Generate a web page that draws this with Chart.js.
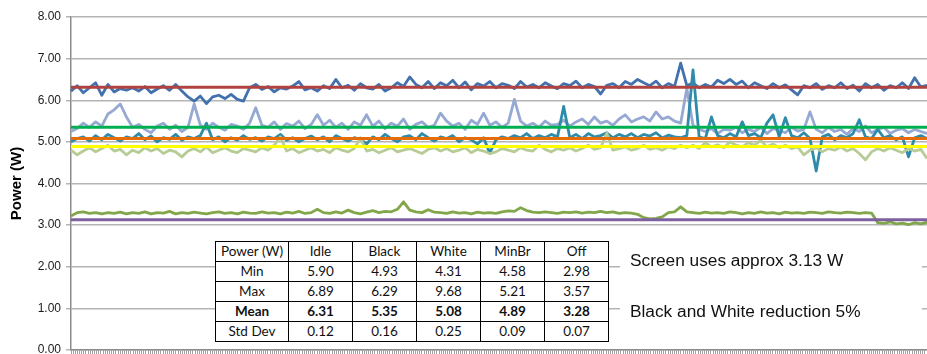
<!DOCTYPE html>
<html>
<head>
<meta charset="utf-8">
<script src="https://cdn.jsdelivr.net/npm/chart.js@4"></script>
<style>
  html, body { margin: 0; padding: 0; background: #fff; }
  #wrap { position: relative; width: 927px; height: 354px; overflow: hidden; }
  #wrap canvas { position: absolute; left: 0; top: 0; }
  .stats {
    position: absolute; left: 215px; top: 241px;
    border-collapse: collapse; background: #fff;
    font-family: Lato, "Open Sans", sans-serif; font-size: 13.5px; color: #111;
  }
  .stats td { border: 1px solid #000; height: 19px; padding: 0; text-align: center; line-height: 19px; }
  .stats tr.bold td { font-weight: bold; }
  .note {
    position: absolute; left: 620px; top: 240px; width: 302px; height: 95px; background: #fff;
  }
  .note div {
    position: absolute; left: 10px; font-family: "Liberation Sans", Arial, sans-serif;
    font-size: 17.3px; line-height: 20px; color: #111; white-space: nowrap;
  }
</style>
</head>
<body>
<div id="wrap">
  <canvas id="myChart" width="927" height="354"></canvas>
  <table class="stats" id="stats"></table>
  <div class="note">
    <div id="note1" style="top:10px"></div>
    <div id="note2" style="top:61px"></div>
  </div>
</div>
<script>
// --------------------------------------------------------------------------------------------------------
// data (power in W, one sample per step)

let idle = [
  6.22, 6.35, 6.18, 6.3, 6.42, 6.12, 6.38, 6.2, 6.28, 6.24,
  6.3, 6.22, 6.33, 6.18, 6.27, 6.35, 6.24, 6.38, 6.22, 6.08,
  5.98, 6.1, 5.92, 6.08, 6.12, 6.04, 6.14, 6.02, 5.98, 6.3,
  6.38, 6.26, 6.33, 6.2, 6.3, 6.27, 6.34, 6.45, 6.25, 6.3,
  6.22, 6.35, 6.28, 6.5, 6.3, 6.36, 6.24, 6.4, 6.3, 6.27,
  6.38, 6.22, 6.3, 6.42, 6.33, 6.56, 6.38, 6.3, 6.45, 6.28,
  6.42, 6.35, 6.48, 6.3, 6.44, 6.25, 6.4, 6.34, 6.45, 6.3,
  6.4, 6.36, 6.28, 6.45, 6.32, 6.38, 6.3, 6.42, 6.34, 6.28,
  6.4, 6.35, 6.46, 6.3, 6.38, 6.33, 6.15, 6.36, 6.4, 6.3,
  6.45, 6.38, 6.5, 6.42, 6.35, 6.46, 6.3, 6.4, 6.33, 6.89,
  6.35, 6.42, 6.3, 6.38, 6.32, 6.48, 6.4, 6.5, 6.38, 6.46,
  6.3, 6.42, 6.35, 6.28, 6.4, 6.3, 6.37, 6.25, 6.13, 6.35,
  6.3, 6.4, 6.26, 6.35, 6.3, 6.42, 6.28, 6.36, 6.22, 6.4,
  6.3, 6.38, 6.24, 6.35, 6.3, 6.42, 6.28, 6.54, 6.32, 6.36
];
let black = [
  5.25, 5.32, 5.45, 5.35, 5.48, 5.38, 5.67, 5.77, 5.91, 5.6,
  5.35, 5.42, 5.3, 5.22, 5.38, 5.45, 5.3, 5.4, 5.25, 5.35,
  5.91, 5.4, 5.3, 5.45, 5.35, 5.28, 5.42, 5.38, 5.3, 5.45,
  5.82, 5.4, 5.35, 5.48, 5.3, 5.44, 5.38, 5.5, 5.32, 5.42,
  5.65, 5.4, 5.52, 5.35, 5.45, 5.3, 5.48, 5.4, 5.65, 5.38,
  5.5, 5.32, 5.45, 5.38, 5.55, 5.3, 5.42, 5.48, 5.35, 5.4,
  5.69, 5.5, 5.38, 5.45, 5.3, 5.52, 5.42, 5.69, 5.4, 5.48,
  5.35, 5.45, 6.02, 5.5, 5.38, 5.45, 5.35, 5.5, 5.4, 5.42,
  5.52, 5.38, 5.48, 5.55, 5.42, 5.6, 5.45, 5.5, 5.4, 5.55,
  5.65, 5.48, 5.55, 5.6, 5.5, 5.72, 5.55, 5.6, 5.5, 5.45,
  6.29, 5.4, 5.3, 5.25, 5.32, 5.2, 5.3, 5.28, 5.35, 5.22,
  5.3, 5.25, 5.35, 5.2, 5.32, 5.28, 5.22, 5.35, 5.26, 5.3,
  5.72, 5.3, 5.22, 5.35, 5.25, 5.3, 5.18, 5.32, 5.25, 5.38,
  5.22, 5.3, 5.35, 5.2, 5.28, 5.32, 5.22, 5.3, 5.25, 5.2
];
let white = [
  5.0, 5.08, 5.12, 5.02, 5.15, 5.05, 5.18, 5.1, 5.02, 5.12,
  5.08, 5.2, 5.05, 5.14, 5.0, 5.1, 5.06, 5.18, 5.04, 5.12,
  5.08, 5.15, 5.45, 5.05, 5.12, 5.0, 5.1, 5.04, 5.15, 5.06,
  5.1, 5.02, 5.12, 5.08, 5.18, 5.04, 5.1, 5.0, 5.08, 5.14,
  5.05, 5.12, 5.0, 5.15, 5.08, 5.02, 5.1, 5.06, 4.95, 5.12,
  5.05, 5.18, 5.08, 5.0, 5.12, 5.15, 5.05, 5.2, 5.1, 5.02,
  5.12, 5.08, 5.15, 5.0, 5.1, 5.05, 4.95, 5.1, 4.73, 5.05,
  5.12, 5.08, 5.15, 5.1, 5.2, 5.08, 5.15, 5.1, 5.18, 5.12,
  5.85, 5.1, 5.18, 5.08, 5.2, 5.12, 5.15, 5.22, 5.1, 5.18,
  5.12, 5.2, 5.1, 5.18, 5.14, 5.22, 5.1, 5.16, 5.12, 5.1,
  5.15, 6.73, 5.12, 5.08, 5.6, 5.15, 5.1, 5.2, 5.12, 5.48,
  5.15, 5.2, 5.1, 5.45, 5.65, 5.12, 5.58, 5.15, 5.1, 5.22,
  5.08, 4.3, 5.12, 5.18, 5.05, 5.15, 5.1, 5.2, 5.53, 5.12,
  5.08, 5.3, 5.1, 5.15, 5.05, 5.12, 4.64, 5.1, 5.15, 5.08
];
let minBr = [
  4.8, 4.69, 4.78, 4.86, 4.76, 4.84, 4.92, 4.78, 4.82, 4.69,
  4.8, 4.74, 4.86, 4.78, 4.84, 4.72, 4.8, 4.76, 4.64, 4.78,
  4.84, 4.76, 4.88, 4.74, 4.8, 4.86, 4.78, 4.74, 4.84, 4.8,
  4.76, 4.86, 4.8, 4.92, 5.12, 4.78, 4.84, 4.74, 4.8, 4.86,
  4.78, 4.82, 4.74, 4.86, 4.8, 4.76, 4.84, 5.1, 4.78, 4.82,
  4.74, 4.8, 4.86, 4.76, 4.8, 4.84, 4.78, 4.72, 4.82, 4.86,
  4.78, 4.84, 4.76, 4.8, 4.86, 4.74, 4.82, 4.78, 4.72, 4.76,
  4.84, 4.8, 4.76, 4.86, 4.8, 4.78, 4.92, 4.82, 4.76, 4.84,
  4.8, 4.86, 4.78, 4.84, 4.92, 4.82, 4.86, 5.21, 4.8, 4.84,
  4.88, 4.8, 4.84, 4.92, 4.82, 4.86, 4.8, 4.88, 4.84, 4.92,
  4.86, 4.92, 4.84, 4.98, 4.88, 4.93, 4.86, 5.0, 4.92, 4.88,
  4.98, 4.92, 5.04, 4.88, 4.95, 4.86, 4.92, 4.84, 4.88, 4.69,
  4.8, 4.86, 4.76, 4.84, 4.8, 4.88, 4.78, 4.84, 4.72, 4.57,
  4.76, 4.84, 4.78, 4.86, 4.8, 4.74, 4.84, 4.78, 4.82, 4.6
];
let off = [
  3.22, 3.3, 3.32, 3.28, 3.3, 3.27, 3.3, 3.28, 3.31, 3.27,
  3.3, 3.28, 3.32, 3.27, 3.3, 3.29, 3.33, 3.27, 3.3, 3.28,
  3.31, 3.29, 3.27, 3.3, 3.32, 3.28, 3.3, 3.27, 3.31, 3.29,
  3.28, 3.32, 3.29, 3.3, 3.27, 3.31, 3.29, 3.33, 3.28, 3.3,
  3.38, 3.3, 3.28, 3.32, 3.29, 3.36, 3.3, 3.27, 3.31, 3.35,
  3.3, 3.33, 3.32, 3.38, 3.56, 3.36, 3.32, 3.3, 3.37, 3.31,
  3.3, 3.28, 3.32, 3.29, 3.3, 3.27, 3.31, 3.29, 3.3, 3.28,
  3.32, 3.34, 3.33, 3.42, 3.35, 3.31, 3.3, 3.32, 3.3, 3.28,
  3.31, 3.3, 3.32, 3.29, 3.31, 3.3, 3.33, 3.3, 3.32, 3.28,
  3.3, 3.29, 3.26, 3.18, 3.15, 3.16, 3.2, 3.3, 3.32, 3.44,
  3.32, 3.3, 3.28, 3.31, 3.29, 3.3, 3.28, 3.32, 3.3, 3.27,
  3.3, 3.28, 3.32, 3.29, 3.3, 3.27, 3.31, 3.29, 3.3, 3.28,
  3.31, 3.3, 3.28, 3.32, 3.3, 3.29, 3.31, 3.3, 3.28, 3.3,
  3.29, 3.06, 3.04, 3.08, 3.03, 3.05, 3.01, 3.06, 3.03, 3.07
];

// reference lines (mean values, screen-off level)
let refNames = ["Idle mean", "Black mean", "White mean", "MinBr mean", "Screen"];
let refValues = [6.31, 5.35, 5.08, 4.89, 3.13];
let refColors = ["#B0433F", "#00B050", "#E46C0A", "#FFFF00", "#7E60A0"];

let seriesNames = ["Idle", "Black", "White", "MinBr", "Off"];
let seriesColors = ["#4271AE", "#95A9D3", "#2F8BAA", "#B7CC94", "#82A64A"];

let yTickLabels = ["0.00", "1.00", "2.00", "3.00", "4.00", "5.00", "6.00", "7.00", "8.00"];

// summary table
let statCols = ["Power (W)", "Idle", "Black", "White", "MinBr", "Off"];
let statRows = ["Min", "Max", "Mean", "Std Dev"];
let statMin = ["5.90", "4.93", "4.31", "4.58", "2.98"];
let statMax = ["6.89", "6.29", "9.68", "5.21", "3.57"];
let statMean = ["6.31", "5.35", "5.08", "4.89", "3.28"];
let statStd = ["0.12", "0.16", "0.25", "0.09", "0.07"];

let notes = ["Screen uses approx 3.13 W", "Black and White reduction 5%"];

// --------------------------------------------------------------------------------------------------------
// table + notes

let colW = [73, 64, 64, 64, 64, 64];
let tbl = document.getElementById("stats");
let head = "<tr>" + statCols.map((c, i) => `<td style="width:${colW[i] - 1}px">${c}</td>`).join("") + "</tr>";
let body = [statMin, statMax, statMean, statStd].map((vals, r) =>
  `<tr class="${statRows[r] === "Mean" ? "bold" : ""}"><td>${statRows[r]}</td>` +
  vals.map(v => `<td>${v}</td>`).join("") + "</tr>").join("");
tbl.innerHTML = head + body;
document.getElementById("note1").textContent = notes[0];
document.getElementById("note2").textContent = notes[1];

// --------------------------------------------------------------------------------------------------------
// line chart

let samples = idle.map((_, i) => i + 1);
let allSeries = [idle, black, white, minBr, off];

let datasets = allSeries.map((d, i) => ({
  label: seriesNames[i],
  data: d,
  borderColor: seriesColors[i],
  borderWidth: 2.8,
  pointRadius: 0,
  tension: 0,
  borderJoinStyle: "round",
  fill: false,
  order: 5 - i
}));

refValues.forEach((v, i) => {
  datasets.push({
    label: refNames[i],
    data: [{x: samples[0], y: v}, {x: samples[samples.length - 1], y: v}],
    borderColor: refColors[i],
    borderWidth: 3,
    pointRadius: 0,
    fill: false,
    order: 0
  });
});

new Chart("myChart", {
  type: "line",
  data: {
    labels: samples,
    datasets: datasets
  },
  options: {
    responsive: false,
    animation: false,
    events: [],
    layout: { padding: { top: 17, left: 0, right: 0, bottom: 0 } },
    plugins: {
      legend: { display: false },
      tooltip: { enabled: false }
    },
    scales: {
      x: { display: false },
      xt: {
        type: "linear",
        position: "bottom",
        min: 0,
        max: 400,
        ticks: { stepSize: 1, display: false },
        grid: { drawOnChartArea: false, tickLength: 4, color: "#A0A0A0", lineWidth: 1 },
        border: { color: "#8C8C8C", width: 1.5 }
      },
      y: {
        min: 0,
        max: 8,
        ticks: {
          stepSize: 1,
          padding: 5,
          color: "#1a1a1a",
          font: { family: "'Liberation Sans', Arial", size: 12 },
          callback: (v, i) => yTickLabels[i]
        },
        grid: { color: "#B4B4B4", lineWidth: 1.5, tickLength: 5 },
        border: { color: "#8C8C8C", width: 1.5 },
        title: {
          display: true,
          text: "Power (W)",
          color: "#000",
          font: { family: "'Liberation Sans', Arial", size: 15, weight: "bold" },
          padding: { top: 8, bottom: 0 }
        },
        afterFit: s => { s.width = 71; s.paddingTop = 0; s.paddingBottom = 0; }
      }
    }
  }
});
</script>
</body>
</html>
